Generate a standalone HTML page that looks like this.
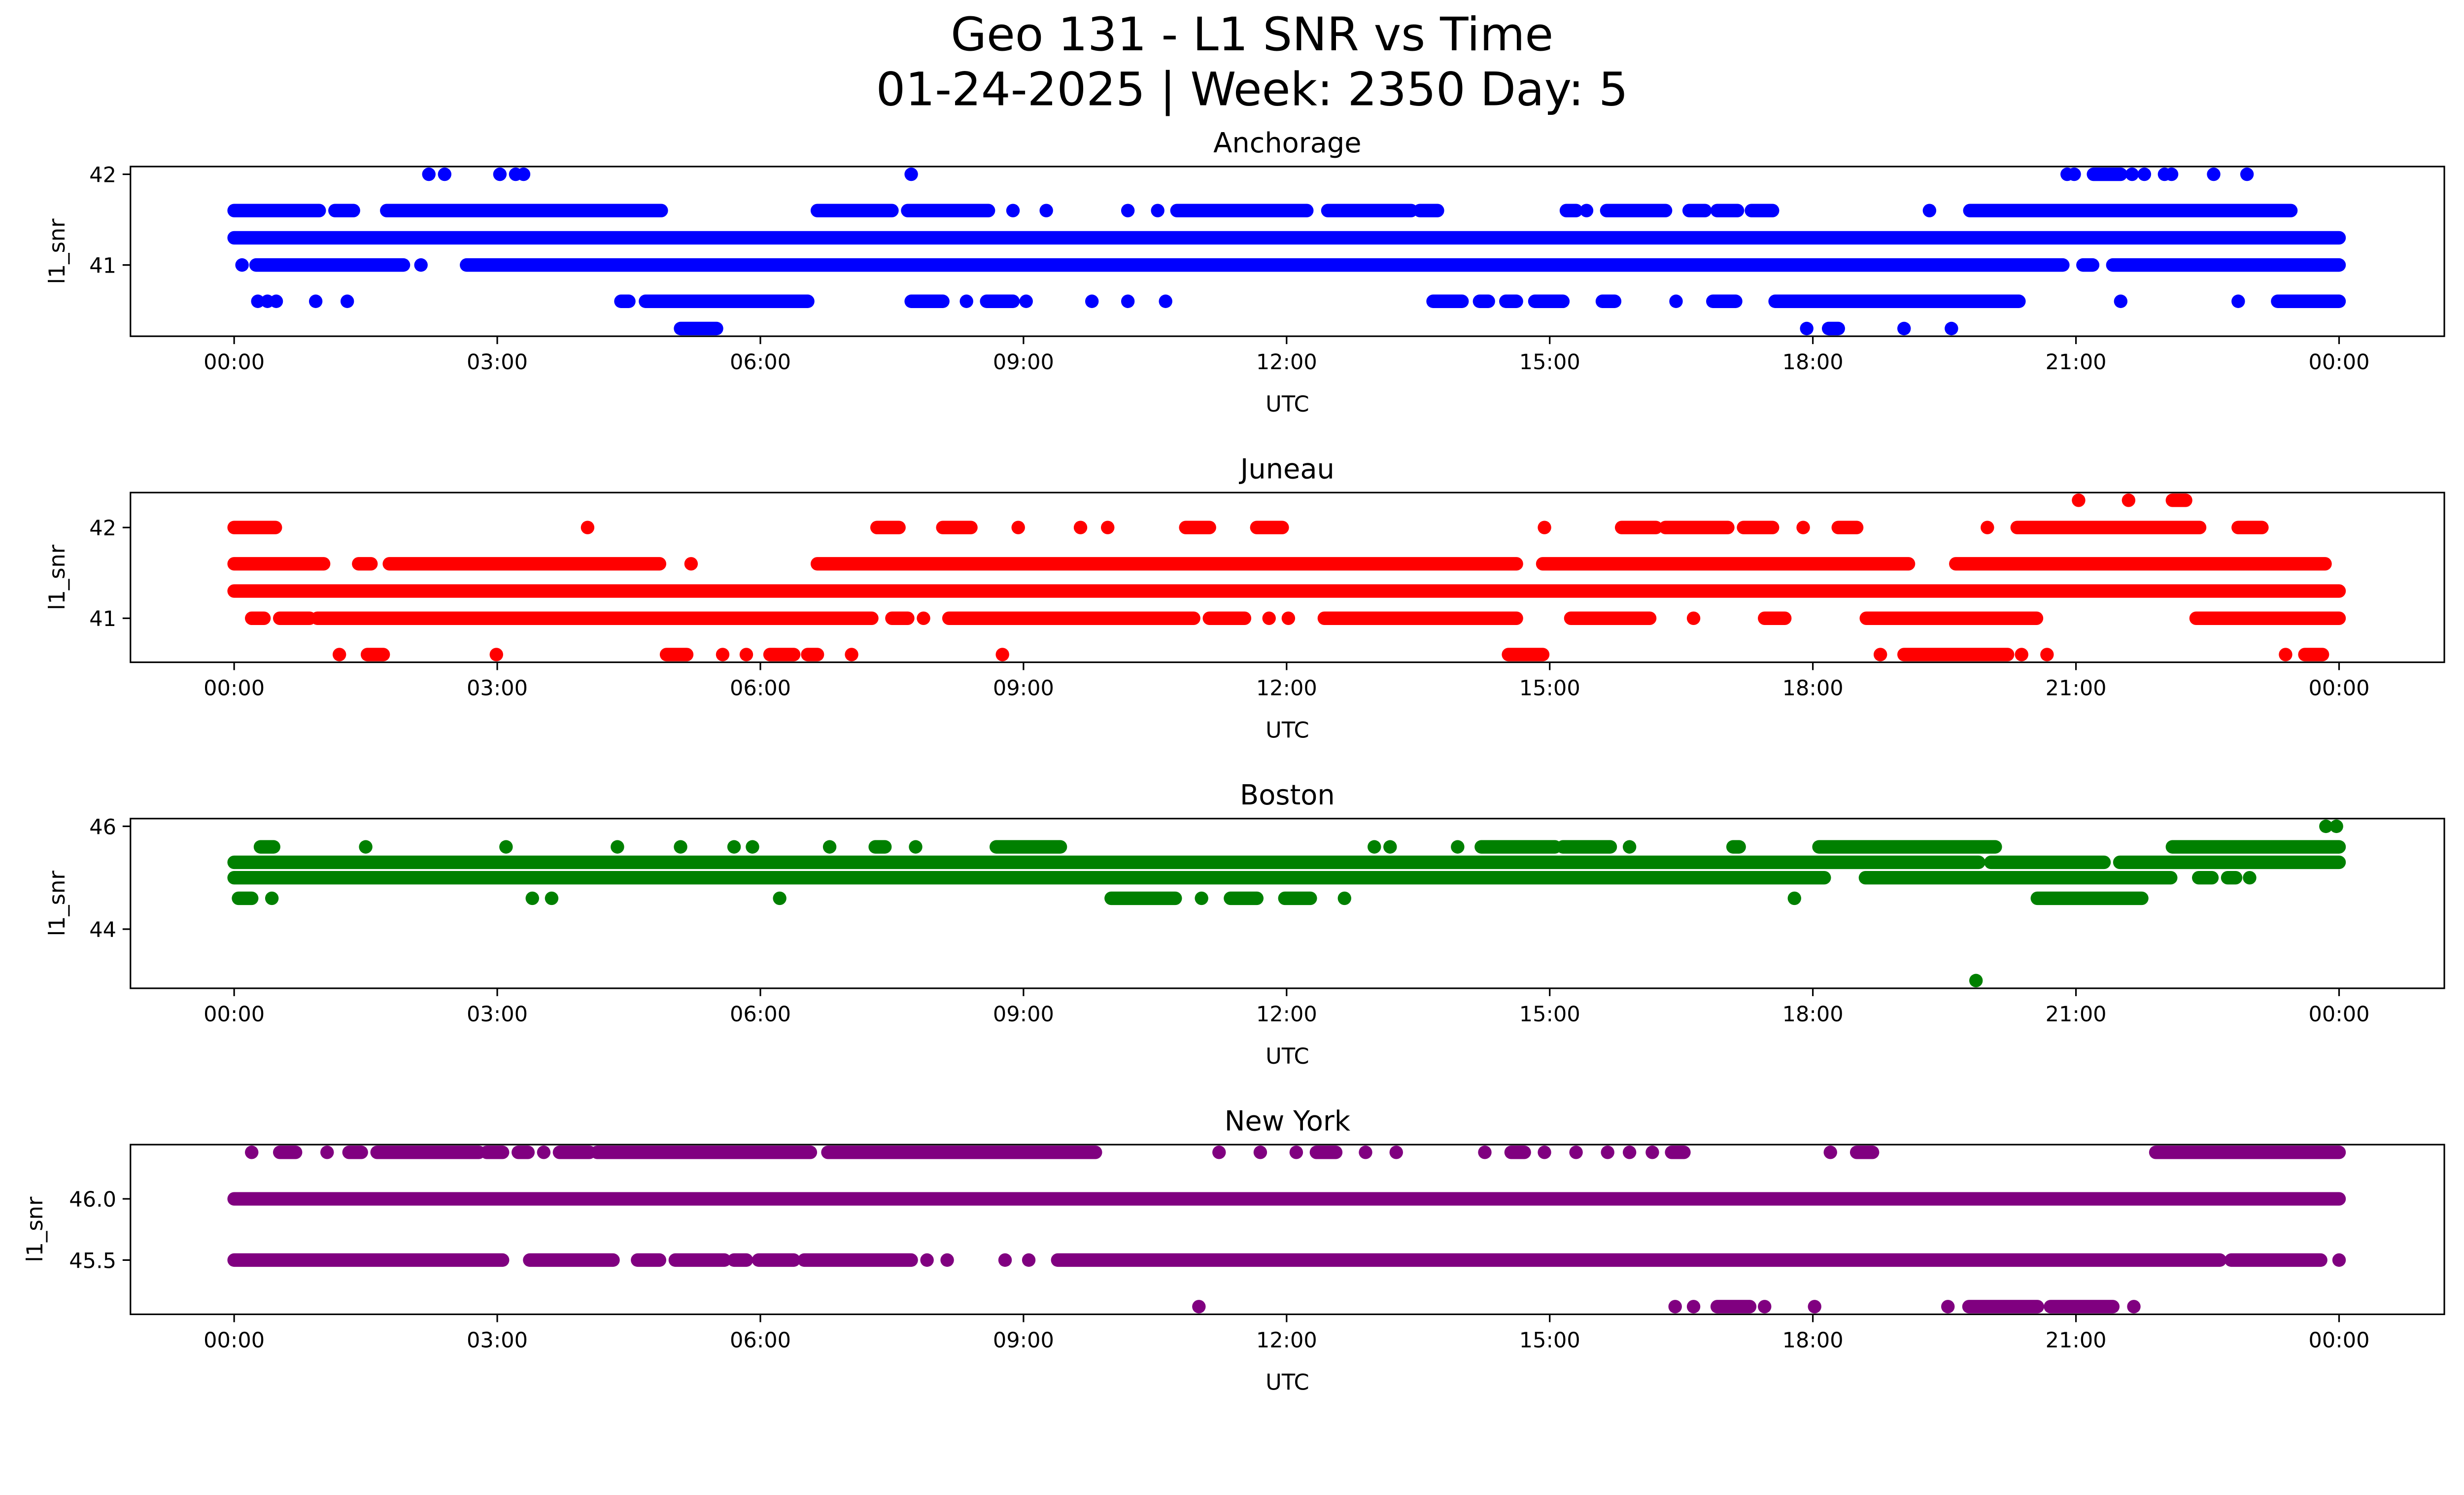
<!DOCTYPE html>
<html><head><meta charset="utf-8"><style>
html,body{margin:0;padding:0;background:#fff;overflow:hidden;width:5279px;height:3033px;}
svg{display:block;font-family:"DejaVu Sans","Liberation Sans",sans-serif;}
</style></head><body>
<svg id="chart" width="5279" height="3033" viewBox="0 0 1656 951.5" xmlns="http://www.w3.org/2000/svg">
<rect width="1656" height="951.5" fill="#fff"/>
<text x="797" y="32" font-size="29.5" text-anchor="middle">Geo 131 - L1 SNR vs Time</text>
<text x="797" y="67" font-size="29.5" text-anchor="middle">01-24-2025 | Week: 2350 Day: 5</text>
<g id="panels"></g>
</svg>
<script>
// x ticks (hours) and labels
const xTickHours = [0,3,6,9,12,15,18,21,24];
const xTickLabels = ["00:00","03:00","06:00","09:00","12:00","15:00","18:00","21:00","00:00"];

// ---------- Anchorage ----------
const anchLevels = [42, 41.6, 41.3, 41, 40.6, 40.3];
const anchTicks = [41, 42];
const anch42 = [[2.22,2.22],[2.4,2.4],[3.03,3.03],[3.21,3.21],[3.3,3.3],[7.72,7.72],[20.9,20.9],[20.98,20.98],[21.2,21.51],[21.64,21.64],[21.78,21.78],[22.01,22.01],[22.09,22.09],[22.57,22.57],[22.95,22.95]];
const anch416 = [[0,0.97],[1.15,1.36],[1.74,4.87],[6.65,7.5],[7.68,8.6],[8.88,8.88],[9.26,9.26],[10.19,10.19],[10.53,10.53],[10.75,12.23],[12.47,13.42],[13.52,13.72],[15.19,15.3],[15.42,15.42],[15.65,16.32],[16.59,16.77],[16.91,17.14],[17.3,17.54],[19.33,19.33],[19.79,23.45]];
const anch413 = [[0,24]];
const anch41 = [[0.09,0.09],[0.25,1.93],[2.13,2.13],[2.65,20.85],[21.08,21.19],[21.42,24]];
const anch406 = [[0.27,0.27],[0.38,0.38],[0.48,0.48],[0.93,0.93],[1.29,1.29],[4.41,4.5],[4.69,6.54],[7.72,8.08],[8.35,8.35],[8.58,8.88],[9.03,9.03],[9.78,9.78],[10.19,10.19],[10.62,10.62],[13.67,14.0],[14.2,14.3],[14.5,14.62],[14.83,15.15],[15.6,15.74],[16.44,16.44],[16.86,17.12],[17.57,20.35],[21.51,21.51],[22.85,22.85],[23.3,24]];
const anch403 = [[5.09,5.5],[17.93,17.93],[18.18,18.29],[19.04,19.04],[19.58,19.58]];

// ---------- Juneau ----------
const junLevels = [42.3, 42, 41.6, 41.3, 41, 40.6];
const junTicks = [41, 42];
const jun423 = [[21.03,21.03],[21.6,21.6],[22.1,22.25]];
const jun42 = [[0,0.47],[4.03,4.03],[7.33,7.58],[8.08,8.4],[8.94,8.94],[9.65,9.65],[9.96,9.96],[10.85,11.12],[11.66,11.95],[14.94,14.94],[15.82,16.21],[16.32,17.03],[17.21,17.54],[17.89,17.89],[18.29,18.5],[19.99,19.99],[20.33,22.41],[22.85,23.12]];
const jun416 = [[0,1.02],[1.42,1.56],[1.77,4.85],[5.21,5.21],[6.65,14.62],[14.92,19.09],[19.63,23.84]];
const jun413 = [[0,24]];
const jun41 = [[0.2,0.34],[0.52,0.86],[0.95,7.27],[7.5,7.68],[7.86,7.86],[8.15,10.94],[11.12,11.52],[11.8,11.8],[12.02,12.02],[12.43,14.62],[15.24,16.14],[16.64,16.64],[17.45,17.68],[18.61,20.55],[22.37,24]];
const jun406 = [[1.2,1.2],[1.52,1.7],[2.99,2.99],[4.93,5.16],[5.57,5.57],[5.84,5.84],[6.11,6.38],[6.54,6.65],[7.04,7.04],[8.76,8.76],[14.53,14.92],[18.77,18.77],[19.04,20.22],[20.38,20.38],[20.67,20.67],[23.39,23.39],[23.61,23.81]];

// ---------- Boston ----------
const bosLevels = [46, 45.6, 45.3, 45, 44.6, 43];
const bosTicks = [44, 46];
const bos46 = [[23.85,23.85],[23.97,23.97]];
const bos456 = [[0.3,0.45],[1.5,1.5],[3.1,3.1],[4.37,4.37],[5.09,5.09],[5.7,5.7],[5.91,5.91],[6.79,6.79],[7.31,7.42],[7.77,7.77],[8.69,9.42],[13.0,13.0],[13.18,13.18],[13.95,13.95],[14.22,15.06],[15.15,15.69],[15.91,15.91],[17.09,17.16],[18.07,20.08],[22.1,24]];
const bos453 = [[0,19.89],[20.03,21.32],[21.5,24]];
const bos45 = [[0,18.13],[18.6,22.08],[22.4,22.55],[22.73,22.82],[22.98,22.98]];
const bos446 = [[0.05,0.2],[0.43,0.43],[3.4,3.4],[3.62,3.62],[6.22,6.22],[10.0,10.73],[11.03,11.03],[11.36,11.66],[11.98,12.27],[12.66,12.66],[17.79,17.79],[20.56,21.75]];
const bos43 = [[19.86,19.86]];

// ---------- New York ----------
const nyLevels = [46.38, 46.0, 45.5, 45.12];
const nyTicks = [45.5, 46.0];
const ny4638 = [[0.2,0.2],[0.52,0.7],[1.06,1.06],[1.31,1.45],[1.63,2.79],[2.88,3.06],[3.24,3.35],[3.53,3.53],[3.71,4.05],[4.14,6.57],[6.77,9.82],[11.23,11.23],[11.7,11.7],[12.11,12.11],[12.34,12.56],[12.9,12.9],[13.25,13.25],[14.26,14.26],[14.56,14.71],[14.94,14.94],[15.3,15.3],[15.66,15.66],[15.91,15.91],[16.17,16.17],[16.39,16.53],[18.2,18.2],[18.5,18.68],[21.91,24]];
const ny46 = [[0,24]];
const ny455 = [[0,3.06],[3.37,4.32],[4.6,4.85],[5.03,5.59],[5.7,5.84],[5.98,6.38],[6.5,7.72],[7.9,7.9],[8.13,8.13],[8.79,8.79],[9.06,9.06],[9.39,22.64],[22.77,23.79],[24,24]];
const ny4512 = [[11.0,11.0],[16.43,16.43],[16.64,16.64],[16.91,17.28],[17.45,17.45],[18.02,18.02],[19.54,19.54],[19.78,20.56],[20.71,21.42],[21.66,21.66]];

const panels = [
  {name:"Anchorage", slug:"anchorage", color:"#0000ff", top:106, levels:anchLevels, ticks:anchTicks, dec:0, runs:[anch42,anch416,anch413,anch41,anch406,anch403]},
  {name:"Juneau", slug:"juneau", color:"#ff0000", top:313.5, levels:junLevels, ticks:junTicks, dec:0, runs:[jun423,jun42,jun416,jun413,jun41,jun406]},
  {name:"Boston", slug:"boston", color:"#008000", top:521, levels:bosLevels, ticks:bosTicks, dec:0, runs:[bos46,bos456,bos453,bos45,bos446,bos43]},
  {name:"New York", slug:"new-york", color:"#800080", top:728.5, levels:nyLevels, ticks:nyTicks, dec:1, runs:[ny4638,ny46,ny455,ny4512]}
];

const NS = "http://www.w3.org/2000/svg";
const AX_L = 83, AX_R = 1556, AX_H = 108;
const X0 = 149, X1 = 1489;
const R = 4.3;
function xScale(h){ return X0 + (h/24)*(X1-X0); }
function mk(tag, attrs, parent){
  const e = document.createElementNS(NS, tag);
  for (const k in attrs) e.setAttribute(k, attrs[k]);
  parent.appendChild(e); return e;
}
const root = document.getElementById("panels");
panels.forEach(p => {
  const mn = Math.min(...p.levels), mx = Math.max(...p.levels);
  const pad = (mx-mn)*0.05, lo = mn-pad, hi = mx+pad;
  const yScale = v => p.top + (hi - v)/(hi-lo)*AX_H;
  const g = mk("g", {}, root);
  
  
  const title = mk("text", {x:(AX_L+AX_R)/2, y:p.top-9, "font-size":17.5, "text-anchor":"middle"}, g);
  title.textContent = p.name;
  
  
  const pts = mk("g", {fill:p.color, stroke:p.color, "stroke-width":2*R, "stroke-linecap":"round"}, g);
  
  
  p.runs.forEach((runs, li) => {
    const y = yScale(p.levels[li]);
    runs.forEach(r => {
      const xa = xScale(r[0]), xb = xScale(r[1]);
      let el;
      if (xb - xa < 0.5) {
        el = mk("circle", {cx:xa, cy:y, r:R, stroke:"none"}, pts);
      } else {
        el = mk("line", {x1:xa, y1:y, x2:xb, y2:y}, pts);
      }
      
      
    });
  });
  const fr = mk("rect", {x:AX_L, y:p.top, width:AX_R-AX_L, height:AX_H, fill:"none", stroke:"#000", "stroke-width":1}, g);
  
  
  const bot = p.top + AX_H;
  xTickHours.forEach((h, i) => {
    const x = xScale(h);
    const t = mk("line", {x1:x, y1:bot, x2:x, y2:bot+5, stroke:"#000", "stroke-width":1}, g);
    
    
    const tl = mk("text", {x:x, y:bot+21, "font-size":13.5, "text-anchor":"middle"}, g);
    tl.textContent = xTickLabels[i];
    
    
  });
  const xl = mk("text", {x:(AX_L+AX_R)/2, y:bot+48, "font-size":14, "text-anchor":"middle"}, g);
  xl.textContent = "UTC";
  
  
  p.ticks.forEach(v => {
    const y = yScale(v);
    const t = mk("line", {x1:AX_L-5, y1:y, x2:AX_L, y2:y, stroke:"#000", "stroke-width":1}, g);
    
    
    const tl = mk("text", {x:AX_L-9, y:y+5, "font-size":13.5, "text-anchor":"end"}, g);
    tl.textContent = v.toFixed(p.dec);
    
    
  });
  const ylx = p.dec ? 27 : 41;
  const yl = mk("text", {x:ylx, y:p.top+AX_H/2, "font-size":14, "text-anchor":"middle", transform:`rotate(-90 ${ylx} ${p.top+AX_H/2})`}, g);
  yl.textContent = "l1_snr";
  
  
});
</script>
</body></html>
